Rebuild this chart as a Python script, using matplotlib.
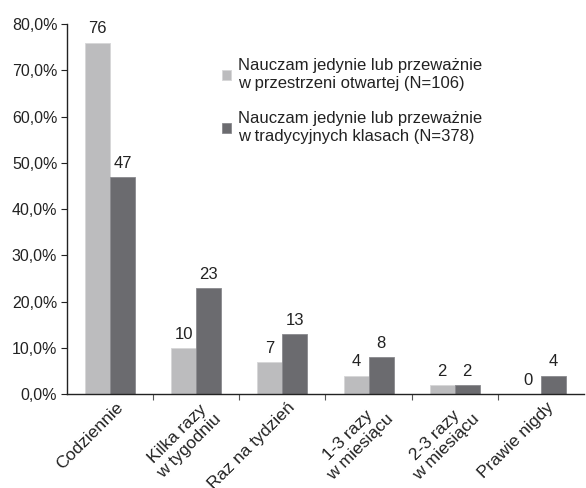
import matplotlib
matplotlib.use("Agg")
import matplotlib.pyplot as plt
import numpy as np
from matplotlib.ticker import FuncFormatter, FixedLocator

plt.rcParams['font.family'] = ['Liberation Sans', 'DejaVu Sans']

categories = ["Codziennie", "Kilka razy\nw tygodniu", "Raz na tydzień",
              "1-3 razy\nw miesiącu", "2-3 razy\nw miesiącu", "Prawie nigdy"]
open_space = [76, 10, 7, 4, 2, 0]
traditional = [47, 23, 13, 8, 2, 4]
series_labels = ["Nauczam jedynie lub przeważnie\nw przestrzeni otwartej (N=106)",
                 "Nauczam jedynie lub przeważnie\nw tradycyjnych klasach (N=378)"]
light = "#bcbcbe"
dark = "#6b6b6f"

fig = plt.figure(figsize=(5.86, 4.88), dpi=100)
ax = fig.add_axes([0.1143, 0.1926, 0.8823, 0.7582])

x = np.arange(len(categories))
w = 0.29
b1 = ax.bar(x - w / 2, open_space, w, color=light, edgecolor="#d6d6d8", linewidth=0.6)
b2 = ax.bar(x + w / 2, traditional, w, color=dark, edgecolor="#8a8a8e", linewidth=0.6)

# value labels above each bar
for bars, vals in ((b1, open_space), (b2, traditional)):
    for r, v in zip(bars, vals):
        ax.text(r.get_x() + r.get_width() / 2, v + 1.3, f"{v}", ha="center",
                va="bottom", fontsize=12, color="#222222")

ax.set_xlim(-0.5, len(categories) - 0.5)
ax.set_ylim(0, 80)
ax.set_yticks(np.arange(0, 81, 10))
ax.yaxis.set_major_formatter(FuncFormatter(lambda v, p: f"{v:.1f}%".replace(".", ",")))
ax.tick_params(axis="y", direction="out", length=4, width=0.8, labelsize=11.5,
               colors="#222222", pad=3)

# tick marks between groups, rotated category names under each group
ax.xaxis.set_major_locator(FixedLocator(x[:-1] + 0.5))
ax.xaxis.set_minor_locator(FixedLocator(x + 0.06))
ax.set_xticklabels([""] * (len(categories) - 1))
ax.set_xticklabels(categories, minor=True, rotation=45, ha="right",
                   rotation_mode="anchor", multialignment="center",
                   linespacing=1.12)
ax.tick_params(axis="x", which="major", direction="out", length=4, width=0.8,
               color="#555555")
ax.tick_params(axis="x", which="minor", length=0, labelsize=12.6,
               labelcolor="#222222", pad=4)

for s in ("top", "right"):
    ax.spines[s].set_visible(False)
for s in ("left", "bottom"):
    ax.spines[s].set_linewidth(1.0)
    ax.spines[s].set_color("#222222")

ax.legend([b1, b2], series_labels, loc="upper left", bbox_to_anchor=(0.27, 0.948),
          frameon=False, fontsize=12.0, handlelength=0.55, handleheight=0.55,
          handletextpad=0.45, labelspacing=1.25, labelcolor="#222222")

fig.savefig("out.png", dpi=100)
